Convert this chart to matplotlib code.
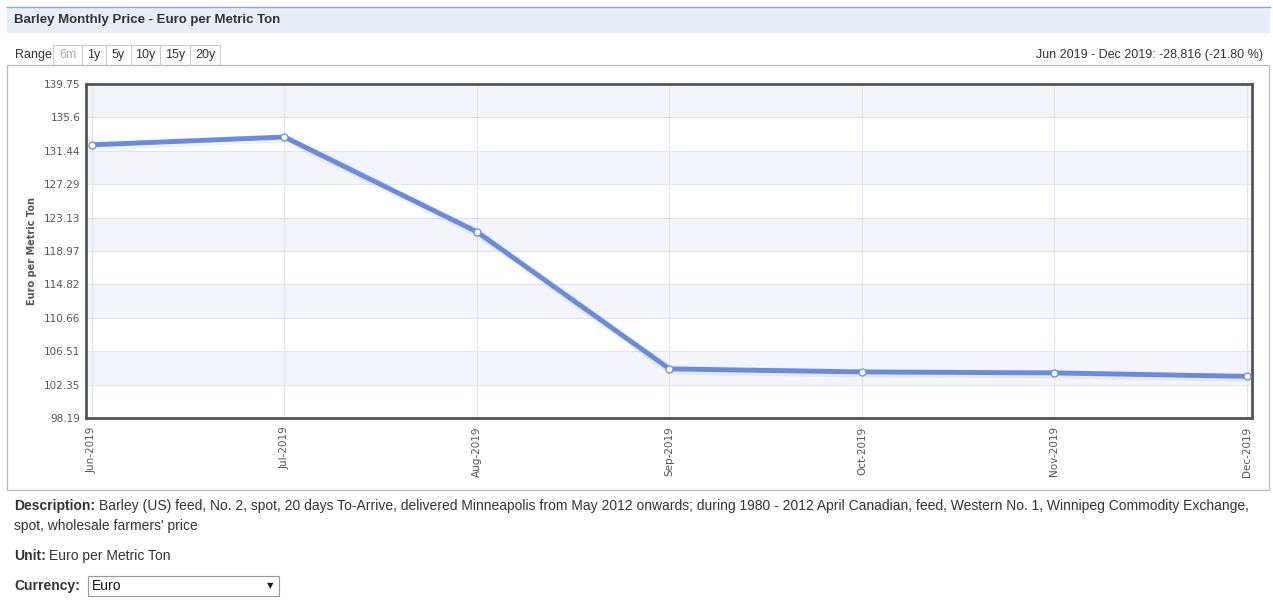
import matplotlib
matplotlib.use("Agg")
import matplotlib.pyplot as plt
import matplotlib.patheffects as pe
from matplotlib.patches import Rectangle
from matplotlib.lines import Line2D

# ---- data ----
months = ["Jun-2019", "Jul-2019", "Aug-2019", "Sep-2019", "Oct-2019", "Nov-2019", "Dec-2019"]
prices = [132.18, 133.15, 121.35, 104.30, 103.92, 103.80, 103.37]
y_ticks = [98.19, 102.35, 106.51, 110.66, 114.82, 118.97, 123.13, 127.29, 131.44, 135.6, 139.75]
y_tick_labels = ["98.19", "102.35", "106.51", "110.66", "114.82", "118.97", "123.13",
                 "127.29", "131.44", "135.6", "139.75"]
range_buttons = ["6m", "1y", "5y", "10y", "15y", "20y"]
title = "Barley Monthly Price - Euro per Metric Ton"
change_text = "Jun 2019 - Dec 2019: -28.816 (-21.80 %)"
y_label = "Euro per Metric Ton"
description = ("Barley (US) feed, No. 2, spot, 20 days To-Arrive, delivered Minneapolis from May 2012 onwards; "
               "during 1980 - 2012 April Canadian, feed, Western No. 1, Winnipeg Commodity Exchange,")
description2 = "spot, wholesale farmers' price"
unit = "Euro per Metric Ton"
currency = "Euro"

W, H = 1273, 600
fig = plt.figure(figsize=(W / 100, H / 100), dpi=100)
fig.patch.set_facecolor("white")
plt.rcParams['font.family'] = ['Liberation Sans', 'DejaVu Sans']

def fx(x):
    return x / W

def fy(y):
    return 1 - y / H

def rect(x0, y0, x1, y1, **kw):
    fig.patches.append(Rectangle((fx(x0), fy(y1)), fx(x1) - fx(x0), fy(y0) - fy(y1),
                                 transform=fig.transFigure, **kw))

def hline(x0, x1, y, **kw):
    fig.lines.append(Line2D([fx(x0), fx(x1)], [fy(y), fy(y)], transform=fig.transFigure, **kw))

def vline(x, y0, y1, **kw):
    fig.lines.append(Line2D([fx(x), fx(x)], [fy(y0), fy(y1)], transform=fig.transFigure, **kw))

# title bar
rect(7, 7, 1270, 33, facecolor="#e8eef9", edgecolor="none")
hline(7, 1270, 7, color="#8fa9d6", lw=1)
fig.text(fx(14), fy(20), title, fontsize=9.5, fontweight="bold", color="#333333", va="center", ha="left")

# range buttons
fig.text(fx(15), fy(55), "Range", fontsize=9, color="#333333", va="center", ha="left")
bx = [53, 82, 106, 131, 160, 190, 220]
rect(53, 45, 220, 65, facecolor="#ffffff", edgecolor="#cccccc", lw=0.8)
for i, lab in enumerate(range_buttons):
    if i > 0:
        vline(bx[i], 45, 65, color="#cccccc", lw=0.8)
    fig.text(fx((bx[i] + bx[i + 1]) / 2), fy(55), lab, fontsize=9,
             color="#aaaaaa" if i == 0 else "#333333", va="center", ha="center")

fig.text(fx(1263), fy(55), change_text, fontsize=9, color="#333333", va="center", ha="right")

# chart container
rect(7, 65, 1269, 490, facecolor="none", edgecolor="#bbbbbb", lw=0.9)

# plot area
left, right, top, bottom = 86, 1252, 84, 418
ax = fig.add_axes([fx(left), fy(bottom), fx(right) - fx(left), fy(top) - fy(bottom)])
xs = list(range(len(months)))
ax.set_xlim(-0.031, len(months) - 1 + 0.026)
ax.set_ylim(y_ticks[0], y_ticks[-1])
for i in range(len(y_ticks) - 1):
    if (len(y_ticks) - 2 - i) % 2 == 0:
        ax.axhspan(y_ticks[i], y_ticks[i + 1], color="#f3f5fb", lw=0, zorder=0)
for yv in y_ticks:
    ax.axhline(yv, color="#dde5f3", lw=0.8, zorder=1)
for xv in xs:
    ax.axvline(xv, color="#dde5f3", lw=0.8, zorder=1)

ax.plot(xs, prices, color="#6a8cd8", lw=3.5, solid_joinstyle="round", solid_capstyle="round", zorder=3,
        path_effects=[pe.SimpleLineShadow(offset=(0.5, -1), shadow_color="#3050a0", alpha=0.08, linewidth=6),
                      pe.Normal()])
ax.plot(xs, prices, linestyle="none", marker="o", markersize=5, markerfacecolor="white",
        markeredgecolor="#6a8cd8", markeredgewidth=0.9, zorder=4)

ax.set_yticks(y_ticks)
ax.set_yticklabels(y_tick_labels, fontsize=7.5, color="#555555", family="DejaVu Sans")
ax.set_xticks(xs)
ax.set_xticklabels(months, rotation=90, fontsize=7.5, color="#555555", family="DejaVu Sans")
ax.tick_params(axis="both", length=0, pad=4)
ax.tick_params(axis="x", pad=6)
for s in ax.spines.values():
    s.set_color("#555555")
    s.set_linewidth(2)

fig.text(fx(32), fy(251), y_label, rotation=90, fontsize=7, fontweight="bold", color="#555555",
         va="center", ha="center", family="DejaVu Sans")

# bottom texts
fig.text(fx(14), fy(506), "Description:", fontsize=10, fontweight="bold", color="#333333", va="center")
fig.text(fx(99), fy(506), description, fontsize=10, color="#333333", va="center")
fig.text(fx(14), fy(526), description2, fontsize=10, color="#333333", va="center")
fig.text(fx(14), fy(556), "Unit:", fontsize=10, fontweight="bold", color="#333333", va="center")
fig.text(fx(49), fy(556), unit, fontsize=10, color="#333333", va="center")
fig.text(fx(14), fy(586), "Currency:", fontsize=10, fontweight="bold", color="#333333", va="center")
rect(88, 576, 279, 596, facecolor="white", edgecolor="#999999", lw=0.8)
fig.text(fx(92), fy(586), currency, fontsize=10, color="#111111", va="center")
fig.text(fx(270), fy(586), "▼", fontsize=6, color="#222222", va="center", ha="center", family="DejaVu Sans")

fig.savefig("out.png", dpi=100)
